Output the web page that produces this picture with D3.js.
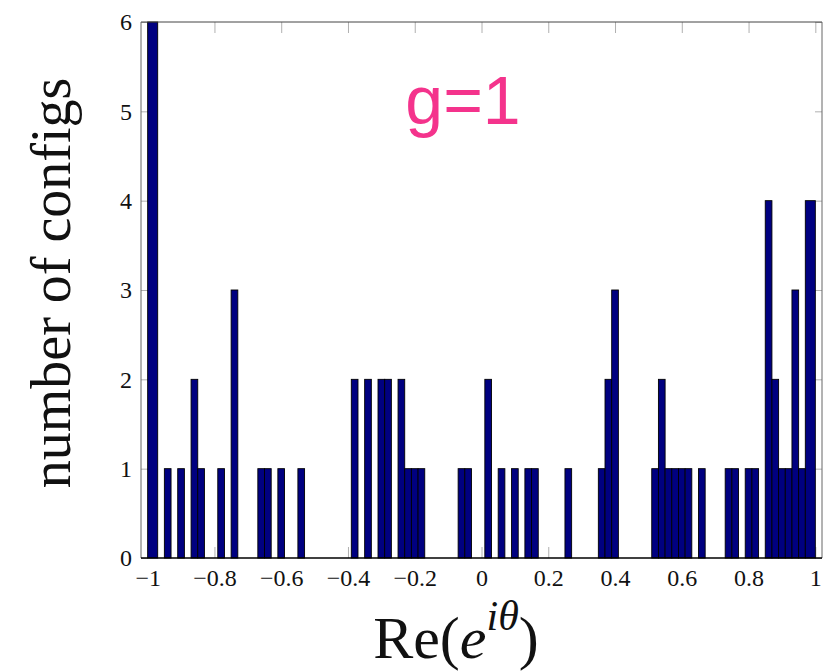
<!DOCTYPE html>
<html>
<head>
<meta charset="utf-8">
<script src="https://cdn.jsdelivr.net/npm/d3@7"></script>
<style>
  body { margin: 0; background: #fff; }
  svg { display: block; }
</style>
</head>
<body>
<svg id="chart" width="837" height="671"></svg>
<script>
// Histogram of Re(e^{iθ}) over configurations, g = 1.
// Each bar: lower edge, upper edge, count.
const binLow = [
  -1.00, -0.95, -0.91, -0.87, -0.85, -0.79, -0.75, -0.67, -0.65, -0.61, -0.55,
  -0.39, -0.35, -0.31, -0.29, -0.25, -0.23, -0.21, -0.19, -0.07, -0.05,
  0.01, 0.05, 0.09, 0.13, 0.15, 0.25, 0.35, 0.37, 0.39,
  0.51, 0.53, 0.55, 0.57, 0.59, 0.61, 0.65, 0.73, 0.75, 0.79, 0.81,
  0.85, 0.87, 0.89, 0.91, 0.93, 0.95, 0.97
];
const binHigh = [
  -0.97, -0.93, -0.89, -0.85, -0.83, -0.77, -0.73, -0.65, -0.63, -0.59, -0.53,
  -0.37, -0.33, -0.29, -0.27, -0.23, -0.21, -0.19, -0.17, -0.05, -0.03,
  0.03, 0.07, 0.11, 0.15, 0.17, 0.27, 0.37, 0.39, 0.41,
  0.53, 0.55, 0.57, 0.59, 0.61, 0.63, 0.67, 0.75, 0.77, 0.81, 0.83,
  0.87, 0.89, 0.91, 0.93, 0.95, 0.97, 1.00
];
const counts = [
  6, 1, 1, 2, 1, 1, 3, 1, 1, 1, 1,
  2, 2, 2, 2, 2, 1, 1, 1, 1, 1,
  2, 1, 1, 1, 1, 1, 1, 2, 3,
  1, 2, 1, 1, 1, 1, 1, 1, 1, 1, 1,
  4, 2, 1, 1, 3, 1, 4
];

const xTickValues = [-1, -0.8, -0.6, -0.4, -0.2, 0, 0.2, 0.4, 0.6, 0.8, 1];
const yTickValues = [0, 1, 2, 3, 4, 5, 6];
const xDomain = [-1.02, 1.02];
const yDomain = [0, 6];
const panelTitle = "g=1";
const yTitle = "number of configs";

const bins = binLow.map((lo, i) => ({ lo, hi: binHigh[i], n: counts[i] }));

const plot = { left: 141, right: 822, top: 22, bottom: 558 };
const svg = d3.select("#chart");
const serif = "'Liberation Serif', 'Times New Roman', serif";

const x = d3.scaleLinear().domain(xDomain).range([plot.left, plot.right]);
const y = d3.scaleLinear().domain(yDomain).range([plot.bottom, plot.top]);

const fmt = d => String(d).replace("-", "\u2212");
const tickColor = "#b0b0b0";

function styleAxis(g, withLabels) {
  g.select(".domain").remove();
  g.selectAll(".tick line").attr("stroke", tickColor).attr("stroke-width", 1);
  g.selectAll(".tick text")
    .attr("fill", "#111")
    .style("font-family", serif)
    .style("font-size", "24px");
  if (!withLabels) g.selectAll(".tick text").remove();
}

// Ticks sit under the bars; labels lie outside the frame.
svg.append("g")
  .attr("transform", `translate(0,${plot.bottom})`)
  .call(d3.axisBottom(x).tickValues(xTickValues).tickSize(-11).tickPadding(11).tickFormat(fmt))
  .call(g => styleAxis(g, true));

svg.append("g")
  .attr("transform", `translate(0,${plot.top})`)
  .call(d3.axisTop(x).tickValues(xTickValues).tickSize(-11))
  .call(g => styleAxis(g, false));

svg.append("g")
  .attr("transform", `translate(${plot.left},0)`)
  .call(d3.axisLeft(y).tickValues(yTickValues).tickSize(-7).tickPadding(9).tickFormat(fmt))
  .call(g => styleAxis(g, true));

svg.append("g")
  .attr("transform", `translate(${plot.right},0)`)
  .call(d3.axisRight(y).tickValues(yTickValues).tickSize(-7))
  .call(g => styleAxis(g, false));

// Bars
svg.append("g")
  .selectAll("rect")
  .data(bins)
  .join("rect")
  .attr("x", d => x(d.lo))
  .attr("width", d => x(d.hi) - x(d.lo))
  .attr("y", d => y(d.n))
  .attr("height", d => y(0) - y(d.n))
  .attr("fill", "#000080")
  .attr("stroke", "#000")
  .attr("stroke-width", 0.9);

// Frame
const frame = svg.append("g").attr("fill", "none");
frame.append("line").attr("x1", plot.left).attr("x2", plot.right).attr("y1", plot.top).attr("y2", plot.top)
  .attr("stroke", "#444").attr("stroke-width", 1);
frame.append("line").attr("x1", plot.left).attr("x2", plot.left).attr("y1", plot.top).attr("y2", plot.bottom)
  .attr("stroke", "#666").attr("stroke-width", 1);
frame.append("line").attr("x1", plot.right).attr("x2", plot.right).attr("y1", plot.top).attr("y2", plot.bottom)
  .attr("stroke", "#666").attr("stroke-width", 1);
frame.append("line").attr("x1", plot.left).attr("x2", plot.right).attr("y1", plot.bottom).attr("y2", plot.bottom)
  .attr("stroke", "#000").attr("stroke-width", 1.6);

// Panel label
svg.append("text")
  .attr("x", 463).attr("y", 124)
  .attr("text-anchor", "middle")
  .attr("fill", "#f4338c")
  .style("font-family", "'Liberation Sans', Arial, sans-serif")
  .style("font-size", "68px")
  .text(panelTitle);

// Y axis title
svg.append("text")
  .attr("transform", "translate(70,283) rotate(-90)")
  .attr("text-anchor", "middle")
  .attr("fill", "#111")
  .style("font-family", serif)
  .style("font-size", "56px")
  .text(yTitle);

// X axis title: Re(e^{iθ})
const xt = svg.append("text")
  .attr("x", 456).attr("y", 658)
  .attr("text-anchor", "middle")
  .attr("fill", "#111")
  .style("font-family", serif)
  .style("font-size", "60px");
xt.append("tspan").text("Re(");
xt.append("tspan").style("font-style", "italic").text("e");
xt.append("tspan").style("font-style", "italic").style("font-size", "42px").attr("dy", -28).text("i\u03B8");
xt.append("tspan").attr("dy", 28).text(")");
</script>
</body>
</html>
